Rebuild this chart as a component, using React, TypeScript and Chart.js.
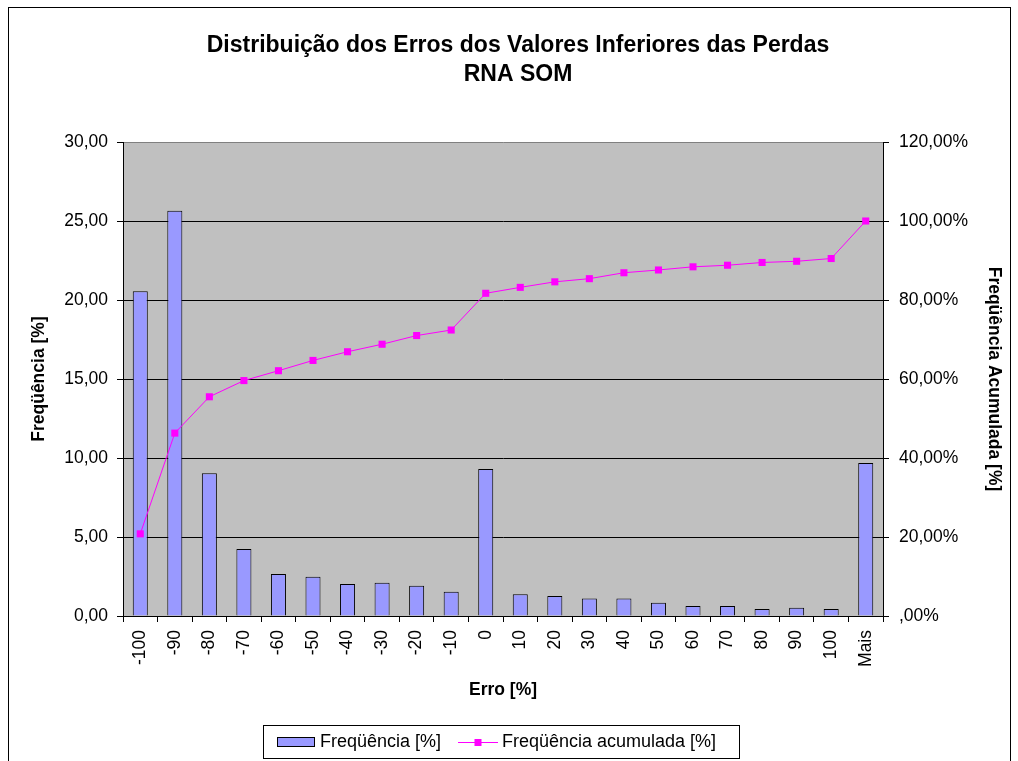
import React, { useEffect, useRef } from 'react';
import { Chart, registerables } from 'chart.js';

Chart.register(...registerables);

const categories = ['-100', '-90', '-80', '-70', '-60', '-50', '-40', '-30', '-20', '-10', '0', '10', '20', '30', '40', '50', '60', '70', '80', '90', '100', 'Mais'];
const frequencia = [20.55, 25.65, 9.03, 4.24, 2.66, 2.49, 2.03, 2.11, 1.92, 1.54, 9.3, 1.37, 1.27, 1.1, 1.1, 0.84, 0.63, 0.63, 0.44, 0.53, 0.44, 9.68];
const acumulada = [20.8, 46.3, 55.5, 59.6, 62.1, 64.7, 66.9, 68.8, 71.0, 72.4, 81.7, 83.2, 84.6, 85.4, 86.9, 87.6, 88.4, 88.8, 89.5, 89.8, 90.5, 100.0];

const titleLines = ['Distribuição dos Erros dos Valores Inferiores das Perdas', 'RNA SOM'];
const seriesNames = ['Freqüência [%]', 'Freqüência acumulada [%]'];
const leftAxisTitle = 'Freqüência [%]';
const rightAxisTitle = 'Freqüência Acumulada [%]';
const xAxisTitle = 'Erro [%]';

const FONT = '"Liberation Sans", Arial, sans-serif';
const BAR_COLOR = '#9999FF';
const LINE_COLOR = '#FF00FF';
const TICK_SIZE = 17.5;
const AXIS_TITLE_SIZE = 17.5;

const decorPlugin = {
  id: 'decor',
  beforeDraw(chart: any) {
    const { ctx, chartArea } = chart;
    ctx.save();
    ctx.fillStyle = '#ffffff';
    ctx.fillRect(0, 0, chart.width, chart.height);
    ctx.fillStyle = '#C0C0C0';
    ctx.fillRect(chartArea.left, chartArea.top, chartArea.right - chartArea.left, chartArea.bottom - chartArea.top);
    ctx.strokeStyle = '#000';
    ctx.lineWidth = 1;
    ctx.strokeRect(8.5, 7.5, 1002, 780);
    ctx.restore();
  },
  afterDraw(chart: any) {
    const { ctx } = chart;
    ctx.save();
    ctx.fillStyle = '#000';
    ctx.textAlign = 'center';
    ctx.textBaseline = 'middle';
    ctx.font = `bold 23px ${FONT}`;
    ctx.fillText(titleLines[0], 518, 46);
    ctx.fillText(titleLines[1], 518, 75);

    // legend
    ctx.strokeStyle = '#000';
    ctx.lineWidth = 1;
    ctx.fillStyle = '#fff';
    ctx.fillRect(263.5, 725.5, 476, 33);
    ctx.strokeRect(263.5, 725.5, 476, 33);
    ctx.fillStyle = BAR_COLOR;
    ctx.fillRect(277.5, 737.5, 37, 9);
    ctx.strokeRect(277.5, 737.5, 37, 9);
    ctx.fillStyle = '#000';
    ctx.font = `18px ${FONT}`;
    ctx.textAlign = 'left';
    ctx.fillText(seriesNames[0], 320, 742);
    ctx.strokeStyle = LINE_COLOR;
    ctx.beginPath();
    ctx.moveTo(458, 742.5);
    ctx.lineTo(498, 742.5);
    ctx.stroke();
    ctx.fillStyle = LINE_COLOR;
    ctx.fillRect(474.5, 739, 7, 7);
    ctx.fillStyle = '#000';
    ctx.fillText(seriesNames[1], 502, 742);
    ctx.restore();
  },
};

export default function App() {
  const ref = useRef<HTMLCanvasElement>(null);
  useEffect(() => {
    const chart = new Chart(ref.current as HTMLCanvasElement, {
      type: 'bar',
      data: {
        labels: categories,
        datasets: [
          {
            type: 'line',
            label: seriesNames[1],
            data: acumulada,
            yAxisID: 'y1',
            borderColor: LINE_COLOR,
            backgroundColor: LINE_COLOR,
            borderWidth: 1,
            pointStyle: 'rect',
            pointRadius: 5,
            pointBorderWidth: 0,
            pointBackgroundColor: LINE_COLOR,
            tension: 0,
            order: 1,
          } as any,
          {
            type: 'bar',
            label: seriesNames[0],
            data: frequencia,
            yAxisID: 'y',
            backgroundColor: BAR_COLOR,
            borderColor: '#000',
            borderWidth: 1,
            barPercentage: 0.435,
            categoryPercentage: 1,
            order: 2,
          } as any,
        ],
      },
      options: {
        responsive: false,
        animation: false,
        devicePixelRatio: 1,
        layout: { padding: { left: 0, right: 0, top: 142, bottom: 58 } },
        plugins: {
          legend: { display: false },
          title: { display: false },
          tooltip: { enabled: false },
        },
        scales: {
          x: {
            afterFit: (s: any) => { s.height = 87; },
            grid: { offset: true, drawOnChartArea: false, color: '#000', tickLength: 6 },
            border: { display: true, color: '#000', width: 1 },
            ticks: {
              autoSkip: false,
              minRotation: 90,
              maxRotation: 90,
              padding: 8,
              color: '#000',
              font: { family: FONT, size: TICK_SIZE },
            },
            title: {
              display: true,
              text: xAxisTitle,
              color: '#000',
              font: { family: FONT, size: AXIS_TITLE_SIZE, weight: 'bold' },
              padding: { top: 0, bottom: 2 },
            },
          },
          y: {
            position: 'left',
            min: 0,
            max: 30,
            afterFit: (s: any) => { s.width = 123; },
            grid: {
              color: (c: any) => (c.tick && c.tick.value === 30 ? '#808080' : '#000'),
              tickColor: '#000',
              tickLength: 6,
              lineWidth: 1,
            },
            border: { display: true, color: '#000', width: 1 },
            ticks: {
              stepSize: 5,
              padding: 9,
              color: '#000',
              font: { family: FONT, size: TICK_SIZE },
              callback: (v: any) => Number(v).toFixed(2).replace('.', ','),
            },
            title: {
              display: true,
              text: leftAxisTitle,
              color: '#000',
              font: { family: FONT, size: AXIS_TITLE_SIZE, weight: 'bold' },
              padding: { top: 29, bottom: 0 },
            },
          },
          y1: {
            position: 'right',
            min: 0,
            max: 120,
            afterFit: (s: any) => { s.width = 135; },
            grid: { drawOnChartArea: false, color: '#000', tickLength: 6 },
            border: { display: true, color: '#000', width: 1 },
            ticks: {
              stepSize: 20,
              padding: 10,
              color: '#000',
              font: { family: FONT, size: TICK_SIZE },
              callback: (v: any) => (Number(v) === 0 ? ',00%' : Number(v).toFixed(2).replace('.', ',') + '%'),
            },
            title: {
              display: true,
              text: rightAxisTitle,
              color: '#000',
              font: { family: FONT, size: AXIS_TITLE_SIZE, weight: 'bold' },
              padding: { top: 14, bottom: 0 },
            },
          },
        },
      } as any,
      plugins: [decorPlugin],
    });
    return () => chart.destroy();
  }, []);
  return (
    <div style={{ position: 'fixed', left: 0, top: 0, width: 1018, height: 761, background: '#fff' }}>
      <canvas ref={ref} width={1018} height={761} style={{ display: 'block', width: 1018, height: 761 }} />
    </div>
  );
}
